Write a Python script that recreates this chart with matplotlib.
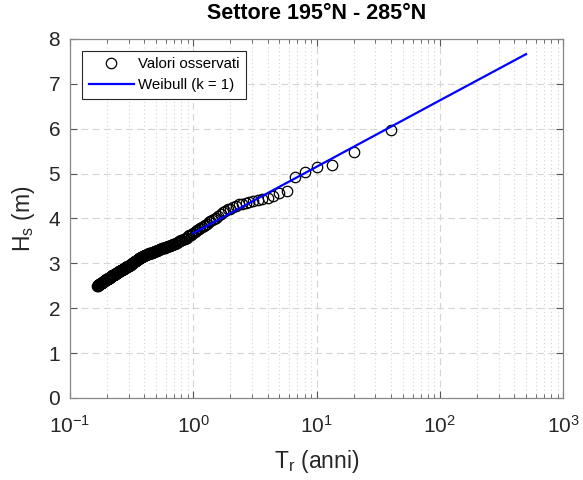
import numpy as np
import matplotlib
matplotlib.use('Agg')
import matplotlib.pyplot as plt

plt.rcParams['font.family'] = ['Liberation Sans', 'DejaVu Sans']
plt.rcParams['mathtext.fontset'] = 'custom'
plt.rcParams['mathtext.rm'] = 'Liberation Sans'
plt.rcParams['mathtext.it'] = 'Liberation Sans:italic'
plt.rcParams['mathtext.default'] = 'regular'

# observed wave heights (m), sorted descending, rank 1 = largest
anni = 40.0
hs_oss = [
    5.97, 5.47, 5.20, 5.14, 5.03, 4.93, 4.60, 4.56, 4.51, 4.46,
    4.44, 4.41, 4.39, 4.37, 4.35, 4.33, 4.31, 4.28, 4.25, 4.22,
    4.20, 4.17, 4.15, 4.10, 4.06, 4.02, 3.99, 3.96, 3.94, 3.91,
    3.88, 3.86, 3.83, 3.81, 3.79, 3.76, 3.74, 3.72, 3.70, 3.68,
    3.66, 3.64, 3.62, 3.60, 3.57, 3.56, 3.55, 3.53, 3.52, 3.51,
    3.50, 3.49, 3.48, 3.46, 3.45, 3.44, 3.43, 3.42, 3.41, 3.41,
    3.40, 3.39, 3.38, 3.38, 3.37, 3.36, 3.36, 3.35, 3.34, 3.34,
    3.33, 3.33, 3.32, 3.31, 3.31, 3.30, 3.30, 3.29, 3.28, 3.28,
    3.27, 3.27, 3.26, 3.26, 3.25, 3.24, 3.24, 3.23, 3.23, 3.22,
    3.22, 3.21, 3.21, 3.20, 3.20, 3.19, 3.19, 3.18, 3.18, 3.17,
    3.17, 3.16, 3.16, 3.15, 3.15, 3.14, 3.13, 3.12, 3.12, 3.11,
    3.10, 3.09, 3.09, 3.08, 3.07, 3.06, 3.06, 3.05, 3.04, 3.03,
    3.03, 3.02, 3.01, 3.01, 3.00, 2.99, 2.99, 2.98, 2.97, 2.97,
    2.96, 2.95, 2.95, 2.94, 2.94, 2.93, 2.93, 2.92, 2.92, 2.91,
    2.91, 2.90, 2.90, 2.89, 2.89, 2.88, 2.88, 2.87, 2.87, 2.86,
    2.86, 2.85, 2.85, 2.84, 2.84, 2.83, 2.83, 2.82, 2.82, 2.82,
    2.81, 2.81, 2.80, 2.80, 2.79, 2.79, 2.79, 2.78, 2.78, 2.77,
    2.77, 2.76, 2.76, 2.76, 2.75, 2.75, 2.74, 2.74, 2.74, 2.73,
    2.73, 2.72, 2.72, 2.71, 2.71, 2.70, 2.70, 2.70, 2.69, 2.69,
    2.68, 2.68, 2.67, 2.67, 2.67, 2.66, 2.66, 2.65, 2.65, 2.65,
    2.64, 2.64, 2.64, 2.63, 2.63, 2.62, 2.62, 2.62, 2.61, 2.61,
    2.60, 2.60, 2.60, 2.59, 2.59, 2.59, 2.58, 2.58, 2.57, 2.57,
    2.57, 2.56, 2.56, 2.56, 2.55, 2.55, 2.54, 2.54, 2.54, 2.53,
    2.53, 2.53, 2.52, 2.52, 2.52, 2.51, 2.51, 2.51, 2.50, 2.50,
]
# return period of each observed value from its rank
rank = np.arange(1, len(hs_oss) + 1)
tr_oss = anni / rank

# fitted Weibull (k = 1) line
tr_fit = [1, 10, 100, 500]
hs_fit = [3.67, 5.15, 6.63, 7.66]

fig = plt.figure(figsize=(5.83, 4.80), dpi=100)
ax = fig.add_axes([0.120, 0.171, 0.846, 0.748])

ax.plot(tr_oss, hs_oss, 'o', mfc='none', mec='black', ms=7.5, mew=0.9,
        label='Valori osservati', zorder=3)
ax.plot(tr_fit, hs_fit, '-', color='#0000ff', lw=1.6,
        label='Weibull (k = 1)', zorder=4)

ax.set_xscale('log')
ax.set_xlim(0.1, 1000)
ax.set_ylim(0, 8)
ax.set_yticks(range(0, 9))

gc = '#d4d4d4'
ax.grid(which='major', ls=(0, (6, 4)), color=gc, lw=0.8)
ax.grid(which='minor', axis='x', ls=(0, (1, 2.5)), color=gc, lw=0.8)
ax.set_axisbelow(True)

ax.tick_params(which='both', direction='in', top=True, right=True,
               colors='#555555', labelcolor='#262626', labelsize=15)
ax.tick_params(which='major', length=5)
ax.tick_params(which='minor', length=3)
ax.tick_params(axis='x', which='both', pad=12)
ax.tick_params(axis='y', which='both', pad=7)
for s in ax.spines.values():
    s.set_color('#888888')
    s.set_linewidth(0.9)

ax.set_title('Settore 195°N - 285°N', fontsize=15.5, fontweight='bold',
             color='#000000', pad=14)
ax.set_xlabel('T$_r$ (anni)', fontsize=16.5, color='#262626', labelpad=8)
ax.set_ylabel('H$_s$ (m)', fontsize=16.5, color='#262626', labelpad=8)

leg = ax.legend(loc='upper left', bbox_to_anchor=(0.024, 0.967), fontsize=10.8,
                handlelength=3.0, handletextpad=0.3, borderpad=0.45,
                labelspacing=0.45, fancybox=False, framealpha=1,
                edgecolor='#262626', borderaxespad=0)
leg.get_frame().set_linewidth(0.8)

fig.savefig('out.png', dpi=100)
